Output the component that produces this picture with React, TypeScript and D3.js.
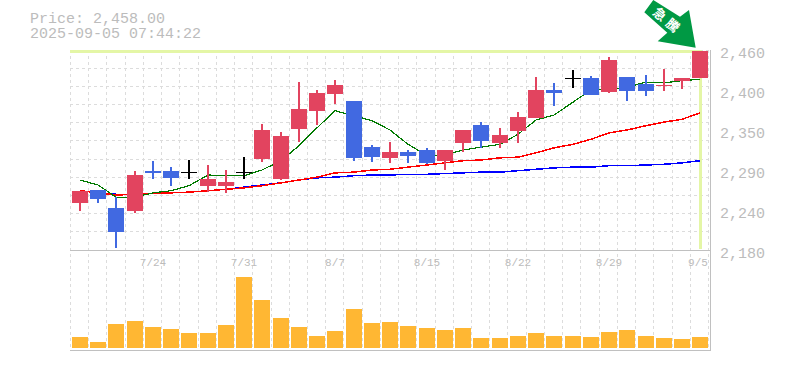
import React from "react";
import * as d3 from "d3";

const dates = ["7/17","7/18","7/22","7/23","7/24","7/25","7/28","7/29","7/30","7/31","8/1","8/4","8/5","8/6","8/7","8/8","8/12","8/13","8/14","8/15","8/18","8/19","8/20","8/21","8/22","8/25","8/26","8/27","8/28","8/29","9/1","9/2","9/3","9/4","9/5"];
const opens = [2246,2264,2239,2235,2291,2291,2289,2270,2270,2289,2307,2279,2349,2375,2398,2389,2324,2309,2317,2320,2305,2330,2355,2330,2347,2365,2404,2421,2421,2401,2422,2412,2410,2417,2421];
const highs = [2263,2264,2254,2291,2305,2296,2306,2299,2292,2310,2356,2345,2415,2404,2418,2389,2327,2331,2320,2323,2320,2348,2359,2351,2373,2422,2414,2432,2424,2450,2422,2425,2433,2421,2458];
const lows = [2235,2246,2183,2232,2279,2270,2279,2261,2260,2279,2303,2278,2331,2355,2384,2305,2303,2302,2302,2300,2292,2317,2323,2323,2330,2365,2382,2407,2397,2400,2389,2396,2403,2405,2421];
const closes = [2263,2251,2205,2285,2288,2281,2289,2279,2275,2289,2348,2340,2377,2400,2411,2309,2310,2317,2312,2302,2320,2348,2333,2341,2366,2404,2400,2421,2397,2446,2403,2403,2411,2421,2458];
const maShort = [2278,2271,2254,2254,2260,2263,2270,2285,2284,2284,2292,2305,2326,2351,2375,2368,2361,2348,2328,2312,2313,2320,2324,2328,2342,2362,2369,2387,2404,2405,2408,2415,2414,2417,2419];
const maMid = [2263,2260,2257,2258,2259,2260,2261,2263,2265,2267,2270,2274,2278,2282,2288,2289,2292,2293,2296,2299,2302,2305,2306,2309,2310,2316,2323,2328,2335,2344,2348,2354,2359,2363,2372];
const maLong = [2263,2260,2258,2258,2259,2260,2261,2263,2265,2268,2271,2274,2278,2281,2282,2284,2285,2285,2286,2286,2287,2288,2289,2289,2291,2293,2295,2296,2296,2298,2298,2299,2300,2302,2305];
const volumes = [11,6,24,27,21,19,15,15,23,71,48,30,21,12,17,39,25,26,22,20,18,20,10,10,12,15,12,12,11,16,18,12,10,9,11];
const priceTicks = [2460,2404,2348,2292,2236,2180];
const tickEvery = [4,9,14,19,24,29,34];
const lastPrice = "Price: 2,458.00";
const stamp = "2025-09-05 07:44:22";

const W = 785, H = 370;
const x = d3.scaleBand<number>().domain(d3.range(dates.length)).range([70.7, 709.45]);
const y = d3.scaleLinear().domain([2180, 2460]).range([250, 50]);
const v = d3.scaleLinear().domain([0, 100]).range([348, 248]);
const cx = (i: number) => Math.round((x(i) as number) + x.bandwidth() / 2);
const gridXs = d3.range(dates.length + 1).map((i) => 70.5 + (i * 638) / dates.length);
const gridYs = d3.range(12).map((i) => 50 + (i * 200) / 11);
const RED = "#e2445f", BLUE = "#4169e1", FONT = "'Liberation Mono','DejaVu Sans Mono',monospace", TXT = "#bcbcbc";
const line = (vals: number[]) => d3.line<number>().x((_, i) => cx(i)).y((d) => y(d))(vals) as string;
const fmt = (n: number) => d3.format(",")(Math.round(n / 10) * 10);

export default function App() {
  return (
    <svg width={W} height={H} style={{ position: "absolute", left: 0, top: 0, background: "#fff" }}>
      <g stroke="#dcdcdc" strokeWidth={1} strokeDasharray="3 3" shapeRendering="crispEdges">
        {gridXs.map((gx, i) => <line key={i} x1={gx} x2={gx} y1={50} y2={350} />)}
        {gridYs.map((gy, i) => <line key={i} x1={70} x2={708} y1={gy} y2={gy} />)}
      </g>
      <rect x={70} y={50} width={632} height={3} fill="#e4f6a6" />
      <rect x={699} y={50} width={3} height={199} fill="#e4f6a6" />
      <g stroke="#c0c0c0" strokeWidth={1} shapeRendering="crispEdges">
        <line x1={70} x2={710} y1={250.5} y2={250.5} />
        <line x1={70} x2={710} y1={350.5} y2={350.5} />
        <line x1={710} x2={710} y1={50} y2={351} />
      </g>
      {volumes.map((d, i) => (
        <rect key={i} x={cx(i) - 8} width={16} y={v(d)} height={v(0) - v(d)} fill="#ffb733" shapeRendering="crispEdges" />
      ))}
      <g fill="none" shapeRendering="crispEdges">
        <path d={line(maLong)} stroke="#0000ff" strokeWidth={1.5} />
        <path d={line(maMid)} stroke="#ff0000" strokeWidth={1.5} />
        <path d={line(maShort)} stroke="#007a00" strokeWidth={1.2} />
      </g>
      {dates.map((_, i) => {
        const o = opens[i], c = closes[i];
        const col = o === c ? "#000" : c > o ? RED : BLUE;
        const top = y(Math.max(o, c)), bot = y(Math.min(o, c));
        return (
          <g key={i} shapeRendering="crispEdges">
            <rect x={cx(i) - 1} width={2} y={y(highs[i])} height={y(lows[i]) - y(highs[i])} fill={col} />
            <rect x={cx(i) - 8} width={16} y={top} height={Math.max(bot - top, 1)} fill={col} />
          </g>
        );
      })}
      <polygon points="644.3,12.3 653.3,0 680,16.7 689,10 695.7,47.7 657.7,41.3 667.3,32.7" fill="#009944" />
      <g fill="#fff" fontFamily="'Noto Sans CJK JP',sans-serif" fontWeight={700} fontSize={13} textAnchor="middle">
        <text transform="translate(660,14) rotate(40)" dy="5">急</text>
        <text transform="translate(673,25) rotate(40)" dy="5">騰</text>
      </g>
      <g fill={TXT} fontFamily={FONT} fontSize={15}>
        <text x={30} y={23}>{lastPrice}</text>
        <text x={30} y={38}>{stamp}</text>
        {priceTicks.map((t) => <text key={t} x={720} y={y(t) + 8}>{fmt(t)}</text>)}
      </g>
      <g fill={TXT} fontFamily={FONT} fontSize={11} textAnchor="middle">
        {tickEvery.map((i) => <text key={i} x={Math.min(cx(i), 698)} y={266}>{dates[i]}</text>)}
      </g>
    </svg>
  );
}
